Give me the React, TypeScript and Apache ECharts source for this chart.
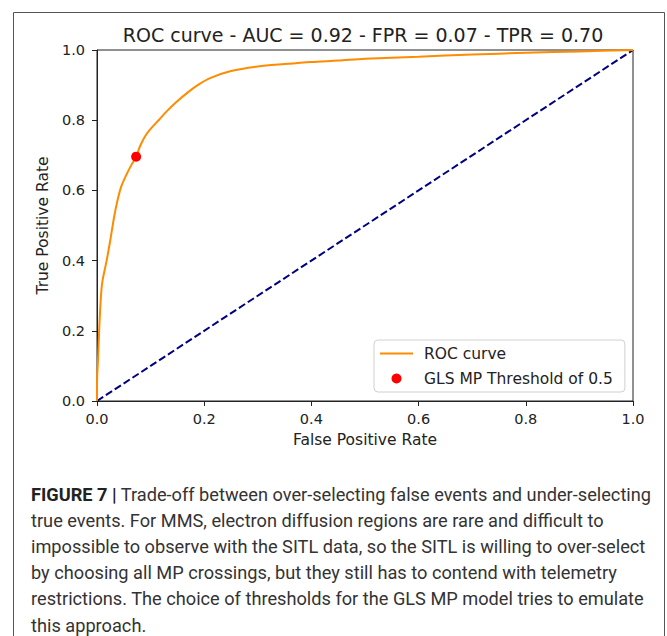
import React, { useEffect, useRef } from "react";
import * as echarts from "echarts";

const fpr = [0, 0, 0.002, 0.004, 0.007, 0.01, 0.018, 0.025, 0.032, 0.038, 0.045, 0.055, 0.064, 0.073, 0.08, 0.09, 0.1, 0.115, 0.13, 0.146, 0.17, 0.19, 0.211, 0.25, 0.3, 0.35, 0.4, 0.45, 0.5, 0.6, 0.7, 0.8, 0.9, 1.0];
const tpr = [0, 0.05, 0.12, 0.2, 0.29, 0.34, 0.4, 0.46, 0.525, 0.57, 0.61, 0.645, 0.672, 0.696, 0.725, 0.755, 0.775, 0.8, 0.825, 0.849, 0.88, 0.902, 0.92, 0.94, 0.953, 0.96, 0.966, 0.97, 0.975, 0.981, 0.987, 0.992, 0.996, 1.0];
const diagonalX = [0, 1];
const diagonalY = [0, 1];
const thresholdFpr = 0.073;
const thresholdTpr = 0.696;
const titleText = "ROC curve - AUC = 0.92 - FPR = 0.07 - TPR = 0.70";
const xAxisName = "False Positive Rate";
const yAxisName = "True Positive Rate";
const rocName = "ROC curve";
const pointName = "GLS MP Threshold of 0.5";
const captionBold = "FIGURE 7 |";
const captionLines = [
  " Trade-off between over-selecting false events and under-selecting",
  "true events. For MMS, electron diffusion regions are rare and difficult to",
  "impossible to observe with the SITL data, so the SITL is willing to over-select",
  "by choosing all MP crossings, but they still has to contend with telemetry",
  "restrictions. The choice of thresholds for the GLS MP model tries to emulate",
  "this approach.",
];

export default function App() {
  const ref = useRef<HTMLDivElement>(null);
  useEffect(() => {
    if (!ref.current) return;
    const chart = echarts.init(ref.current, undefined, { renderer: "svg" });
    const font = "DejaVu Sans";
    const capFont = "Roboto";
    const capColor = "#333";
    const capSize = 18.2;
    const graphics: any[] = [
      {
        type: "rect",
        shape: { x: 13.5, y: 12.5, width: 651, height: 700 },
        style: { fill: "none", stroke: "#555", lineWidth: 1 },
        silent: true,
      },
    ];
    captionLines.forEach((line, i) => {
      graphics.push({
        type: "text",
        x: 31,
        y: 494 + i * 26.2,
        style: {
          text: i === 0 ? `{b|${captionBold}}{r|${line}}` : line,
          font: `${capSize}px ${capFont}`,
          fill: capColor,
          verticalAlign: "middle",
          rich: {
            b: { fontFamily: capFont, fontSize: capSize, fontWeight: "bold", fill: "#222" },
            r: { fontFamily: capFont, fontSize: capSize, fill: capColor },
          },
        },
      });
    });
    chart.setOption({
      animation: false,
      backgroundColor: "#fff",
      title: {
        text: titleText,
        left: 358,
        top: 20,
        textAlign: "center",
        textStyle: { fontFamily: font, fontSize: 19, fontWeight: "normal", color: "#222" },
      },
      grid: {
        left: 97,
        top: 50,
        width: 536,
        height: 351,
        show: true,
        borderColor: "#222",
        borderWidth: 1,
        backgroundColor: "transparent",
      },
      legend: {
        orient: "vertical",
        left: 374,
        top: 340,
        data: [
          { name: rocName, icon: "path://M0,0M0,10M0,4L33,4L33,6L0,6Z" },
          { name: pointName, icon: "circle" },
        ],
        borderColor: "#d0d0d0",
        borderWidth: 1,
        borderRadius: 4,
        backgroundColor: "#fff",
        padding: [5, 12, 5, 6],
        itemGap: 8,
        itemWidth: 33,
        itemHeight: 10,
        textStyle: { fontFamily: font, fontSize: 15.5, color: "#222", lineHeight: 17, padding: [0, 0, 0, 6] },
      },
      xAxis: {
        type: "value",
        min: 0,
        max: 1,
        interval: 0.2,
        name: xAxisName,
        nameLocation: "middle",
        nameGap: 31,
        nameTextStyle: { fontFamily: font, fontSize: 15.5, color: "#222" },
        axisLine: { show: true, lineStyle: { color: "#222", width: 1 } },
        axisTick: { show: true, length: 5, lineStyle: { color: "#222" } },
        axisLabel: { fontFamily: font, fontSize: 14.5, color: "#222", margin: 10, formatter: (v: number) => v.toFixed(1) },
        splitLine: { show: false },
      },
      yAxis: {
        type: "value",
        min: 0,
        max: 1,
        interval: 0.2,
        name: yAxisName,
        nameLocation: "middle",
        nameGap: 46,
        nameTextStyle: { fontFamily: font, fontSize: 15.5, color: "#222" },
        axisLine: { show: true, lineStyle: { color: "#222", width: 1 } },
        axisTick: { show: true, length: 5, lineStyle: { color: "#222" } },
        axisLabel: { fontFamily: font, fontSize: 14.5, color: "#222", margin: 12, formatter: (v: number) => v.toFixed(1) },
        splitLine: { show: false },
      },
      series: [
        {
          name: rocName,
          type: "line",
          data: fpr.map((x, i) => [x, tpr[i]]),
          symbol: "none",
          smooth: 0.3,
          lineStyle: { color: "#ff8c00", width: 2 },
          itemStyle: { color: "#ff8c00" },
          clip: false,
          z: 3,
        },
        {
          name: "diagonal",
          type: "line",
          data: diagonalX.map((x, i) => [x, diagonalY[i]]),
          symbol: "none",
          lineStyle: { color: "#000080", width: 2, type: [7.4, 3.2] },
          clip: false,
          z: 2,
        },
        {
          name: pointName,
          type: "scatter",
          data: [[thresholdFpr, thresholdTpr]],
          symbol: "circle",
          symbolSize: 10,
          itemStyle: { color: "#ff0000", opacity: 1 },
          z: 4,
        },
      ],
      graphic: graphics,
    });
    return () => chart.dispose();
  }, []);
  return (
    <div
      ref={ref}
      style={{ position: "absolute", left: 0, top: 0, width: 667, height: 636, background: "#fff" }}
    />
  );
}
